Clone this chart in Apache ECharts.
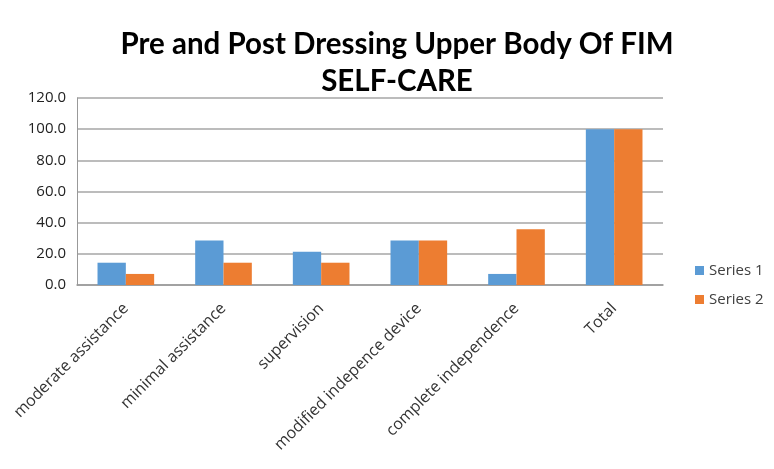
<!DOCTYPE html>
<html>
<head>
<meta charset="utf-8">
<script src="https://cdn.jsdelivr.net/npm/echarts@6/dist/echarts.min.js"></script>
<style>
  html, body { margin: 0; padding: 0; background: #fff; }
  #chart { width: 774px; height: 469px; }
</style>
</head>
<body>
<div id="chart"></div>
<script>
// FIM self-care levels, dressing upper body (percent of patients)
var categories = ['moderate assistance', 'minimal assistance', 'supervision',
  'modified indepence device', 'complete independence', 'Total'];
var series1 = [14.3, 28.6, 21.4, 28.6, 7.1, 100.0];
var series2 = [7.1, 14.3, 14.3, 28.6, 35.7, 100.0];
var seriesNames = ['Series 1', 'Series 2'];

var chart = echarts.init(document.getElementById('chart'));
chart.setOption({
  animation: false,
  title: {
    text: 'Pre and Post Dressing Upper Body Of FIM\nSELF-CARE',
    left: 392, top: 21, textAlign: 'center',
    textStyle: { fontFamily: 'Lato', fontWeight: 'bold', fontSize: 29.5, lineHeight: 37, color: '#000' }
  },
  legend: {
    orient: 'vertical', left: 690, top: 258, itemGap: 14,
    itemWidth: 9, itemHeight: 9, icon: 'rect',
    textStyle: { fontFamily: 'Open Sans', fontSize: 15, color: '#404040' },
    data: seriesNames
  },
  grid: { left: 77, right: 111, top: 98, bottom: 184, containLabel: false },
  xAxis: {
    type: 'category', data: categories,
    axisLine: { lineStyle: { color: '#999', width: 1.5 } },
    axisTick: { show: false },
    axisLabel: { rotate: 45, interval: 0, margin: 21, fontFamily: 'Open Sans', fontSize: 16, color: '#333' }
  },
  yAxis: {
    type: 'value', min: 0, max: 120, interval: 20,
    axisLine: { show: true, lineStyle: { color: '#999' } },
    splitLine: { lineStyle: { color: '#a6a6a6', width: 1.5 } },
    axisLabel: { fontFamily: 'Open Sans', fontSize: 15, color: '#222', margin: 11,
      formatter: function (v) { return v.toFixed(1); } }
  },
  series: [
    { name: seriesNames[0], type: 'bar', data: series1, barWidth: '29%', barGap: '0%',
      itemStyle: { color: '#5B9BD5' } },
    { name: seriesNames[1], type: 'bar', data: series2, barWidth: '29%', barGap: '0%',
      itemStyle: { color: '#ED7D31' } }
  ]
});
</script>
</body>
</html>
